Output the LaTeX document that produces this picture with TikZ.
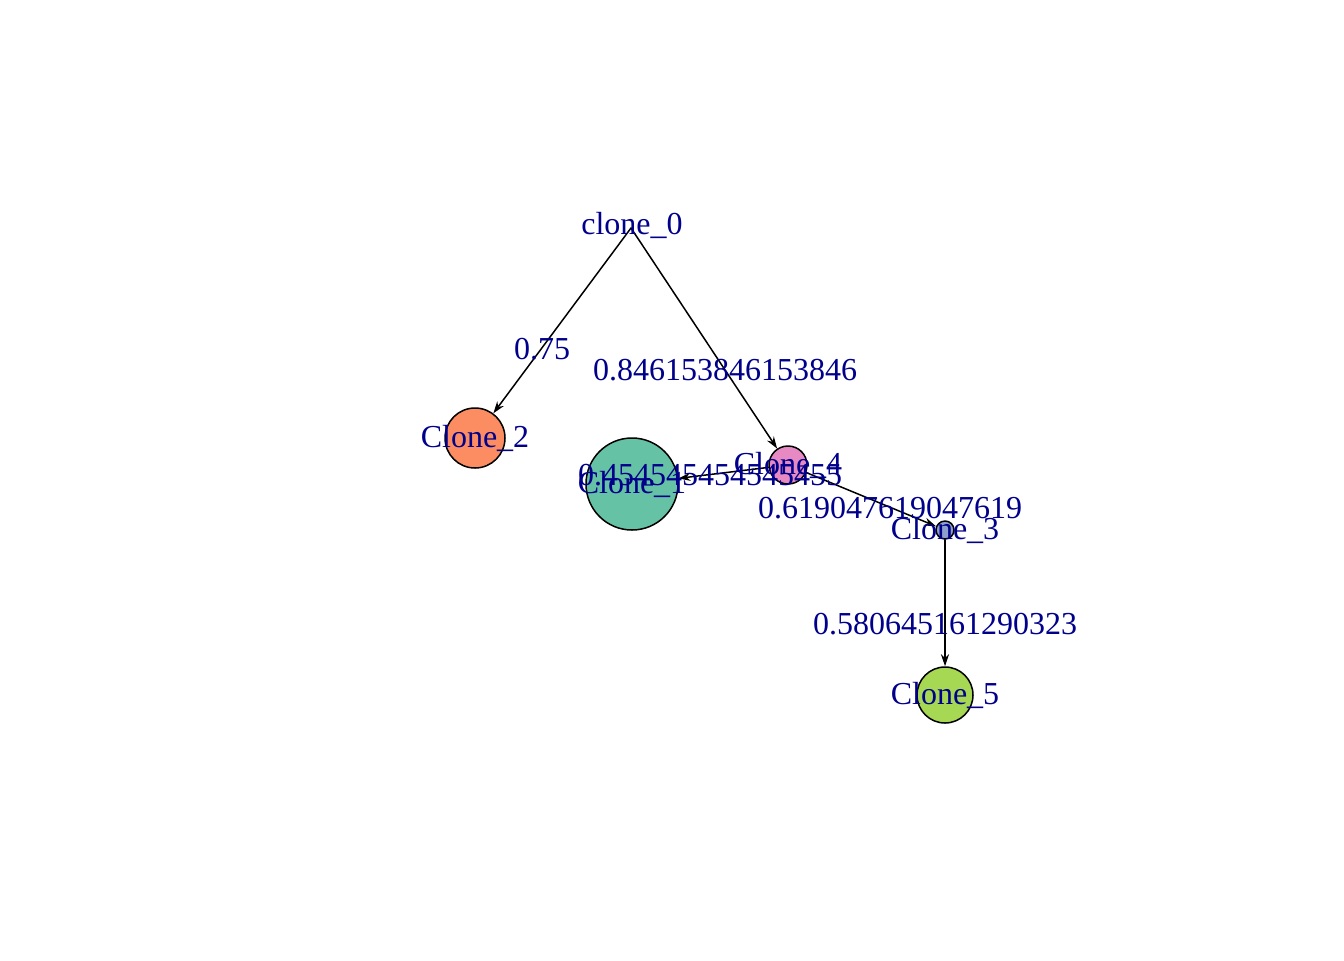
\documentclass[tikz,border=0pt]{standalone}
\usepackage{fontspec}
\setmainfont{Liberation Serif}
\usetikzlibrary{arrows.meta}
\definecolor{lblblue}{HTML}{00008B}
\definecolor{colA}{HTML}{66C2A5}
\definecolor{colB}{HTML}{FC8D62}
\definecolor{colC}{HTML}{8DA0CB}
\definecolor{colD}{HTML}{E78AC3}
\definecolor{colE}{HTML}{A6D854}
\begin{document}
\begin{tikzpicture}[x=0.5pt,y=-0.5pt,line join = round, line cap = round,>={Stealth[length=6pt,width=4pt]},font=\fontsize{16}{19}\selectfont,
	clone/.style={circle,draw,line width=0.75pt,inner sep=0pt},
	lbl/.style={text=lblblue,inner sep=0pt}]
			\useasboundingbox (0,0) rectangle (1344,960);
			%Các đỉnh
			\coordinate (c0) at (631,228);
			\node[clone,fill=colB,minimum size=30pt] (c2) at (475,438) {};
			\node[clone,fill=colA,minimum size=46pt] (c1) at (632,484) {};
			\node[clone,fill=colD,minimum size=19pt] (c4) at (788,465) {};
			\node[clone,fill=colC,minimum size=9pt] (c3) at (945,530) {};
			\node[clone,fill=colE,minimum size=28pt] (c5) at (945,695) {};
			%Các cạnh
			\draw [->,line width=0.75pt] (c0)--(c2);
			\draw [->,line width=0.75pt] (c0)--(c4);
			\draw [->,line width=0.75pt] (c4)--(c1);
			\draw [->,line width=0.75pt] (c4)--(c3);
			\draw [->,line width=0.75pt] (c3)--(c5);
			%Nhãn cạnh
			\node[lbl] (w02) at (542,349) {0.75};
			\node[lbl] (w04) at (725,370) {0.846153846153846};
			\node[lbl] (w41) at (710,475) {0.454545454545455};
			\node[lbl] (w43) at (890,508) {0.619047619047619};
			\node[lbl] (w35) at (945,624) {0.580645161290323};
			%Nhãn đỉnh
			\node[lbl] (l0) at (632,225) {clone\_0};
			\node[lbl] (l2) at (475,438) {Clone\_2};
			\node[lbl] (l1) at (632,484) {Clone\_1};
			\node[lbl] (l4) at (788,465) {Clone\_4};
			\node[lbl] (l3) at (945,530) {Clone\_3};
			\node[lbl] (l5) at (945,695) {Clone\_5};
		\end{tikzpicture}
\end{document}
